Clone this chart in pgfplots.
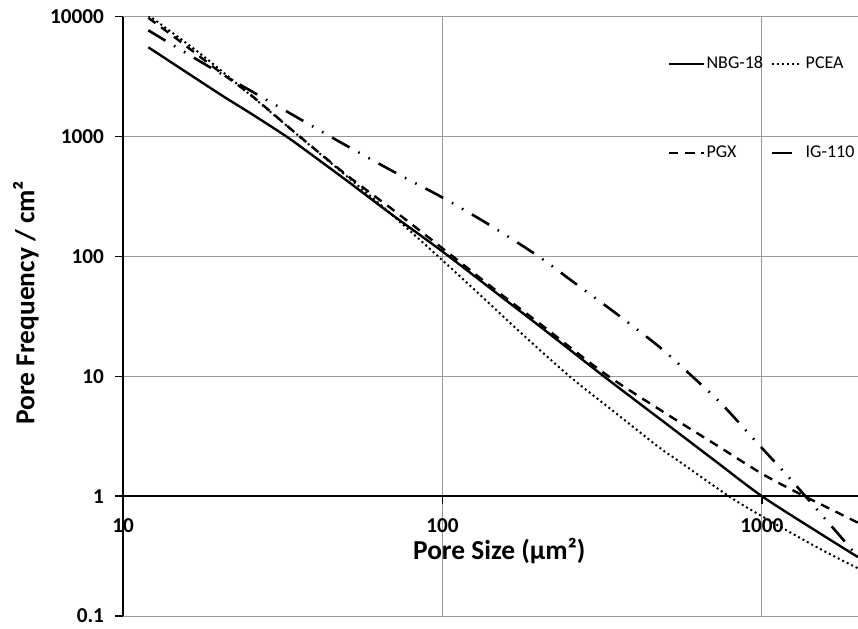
\documentclass[border=0pt]{standalone}
\usepackage{pgfplots}
\pgfplotsset{compat=1.18}
\usepackage{pgfplotstable}
\usepackage{fontspec}
\setmainfont{Carlito}

\pgfplotstableread{
x y
12 5560
20 2280
25 1572
32.5 1000
40 670
50 432
70 220
100 110
150 47.9
200 26.6
320 10
500 4.05
700 2.05
1000 1.0
1500 0.50
2000 0.31
}\nbg

\pgfplotstableread{
x y
12 10300
17.4 4950
25 2230
35.7 1000
50 470
65 261
97 100
135 44.5
174 23.7
250 10
350 4.9
477 2.55
551 1.95
788 1.0
1000 0.68
1500 0.37
2000 0.25
}\pcea

\pgfplotstableread{
x y
12 9800
15 6300
20 3500
25 2250
35 1050
50 480
70 245
100 117
150 50
200 28
321 10.6
500 4.9
700 2.8
1000 1.54
1300 1.06
1550 0.84
2000 0.6
}\pgx

\pgfplotstableread{
x y
12 7700
19 3700
35 1450
48.7 875
70 513
100 310
140 184
200 100
258 60.7
352 33
480 17.4
605 10
750 5.84
977 2.7
1197 1.50
1368 1.0
1600 0.62
1830 0.41
2000 0.31
}\igone

\pgfplotsset{
  igleg/.style={legend image code/.code={\path (0cm,0cm) -- (15pt,0cm); \draw[black,line width=1.3pt] (0cm,0cm) -- (7.5pt,0cm);}},
  pcleg/.style={legend image code/.code={\draw[black,line width=1pt,dash pattern=on 1pt off 1.5pt] (0cm,0cm) -- (15pt,0cm);}},
}

\begin{document}
\begin{tikzpicture}
\begin{axis}[
  at={(0,0)}, anchor=south west,
  scale only axis, width=367.5pt, height=299.65pt,
  xmode=log, ymode=log,
  xmin=10, xmax=2000, ymin=0.1, ymax=10000,
  axis x line=middle, axis y line=left,
  axis line style={-},
  hide obscured x ticks=false, hide obscured y ticks=false,
  xtick={10,100,1000}, xticklabels={10,100,1000},
  ytick={0.1,1,10,100,1000,10000}, yticklabels={0.1,1,10,100,1000,10000},
  xminorticks=false, yminorticks=false,
  grid=major, major grid style={black!40, line width=0.5pt},
  x axis line style={black, line width=1pt},
  y axis line style={black, line width=0.9pt},
  tick style={black, line width=0.7pt},
  major tick length=4pt,
  tick align=outside,
  tick label style={font=\bfseries\fontsize{10.6}{12}\selectfont},
  xticklabel style={yshift=-3.5pt},
  yticklabel style={xshift=-2pt},
  xlabel={Pore Size (µm²)}, ylabel={Pore Frequency / cm²},
  every axis x label/.style={at={(axis description cs:0.512,0.1085)},anchor=center,font=\bfseries\fontsize{13.7}{15}\selectfont},
  every axis y label/.style={at={(axis description cs:-0.132,0.523)},rotate=90,anchor=center,font=\bfseries\fontsize{13.7}{15}\selectfont},
  legend columns=2,
  legend cell align=left,
  legend style={draw=none, fill=none, at={(axis description cs:0.741,0.938)}, anchor=north west,
    font=\fontsize{9}{11}\selectfont, row sep=35pt, inner sep=0pt, nodes={inner sep=1pt},
    /tikz/every even column/.append style={column sep=3pt}},
]
\addplot[black, line width=1.2pt, smooth] table[x=x,y=y]{\nbg};
\addlegendentry{NBG-18}
\addplot[black, line width=1pt, smooth, dash pattern=on 1pt off 1.5pt, pcleg] table[x=x,y=y]{\pcea};
\addlegendentry{PCEA}
\addplot[black, line width=1.2pt, smooth, dash pattern=on 4.5pt off 3.5pt] table[x=x,y=y]{\pgx};
\addlegendentry{PGX}
\addplot[black, line width=1.3pt, smooth, dash pattern=on 10pt off 5pt on 0.8pt off 5pt on 0.8pt off 5pt, igleg] table[x=x,y=y]{\igone};
\addlegendentry{IG-110}
\end{axis}
\pgfresetboundingbox
\path[use as bounding box] (-61.5pt,-6pt) rectangle (367.5pt,308pt);
\end{tikzpicture}
\end{document}
